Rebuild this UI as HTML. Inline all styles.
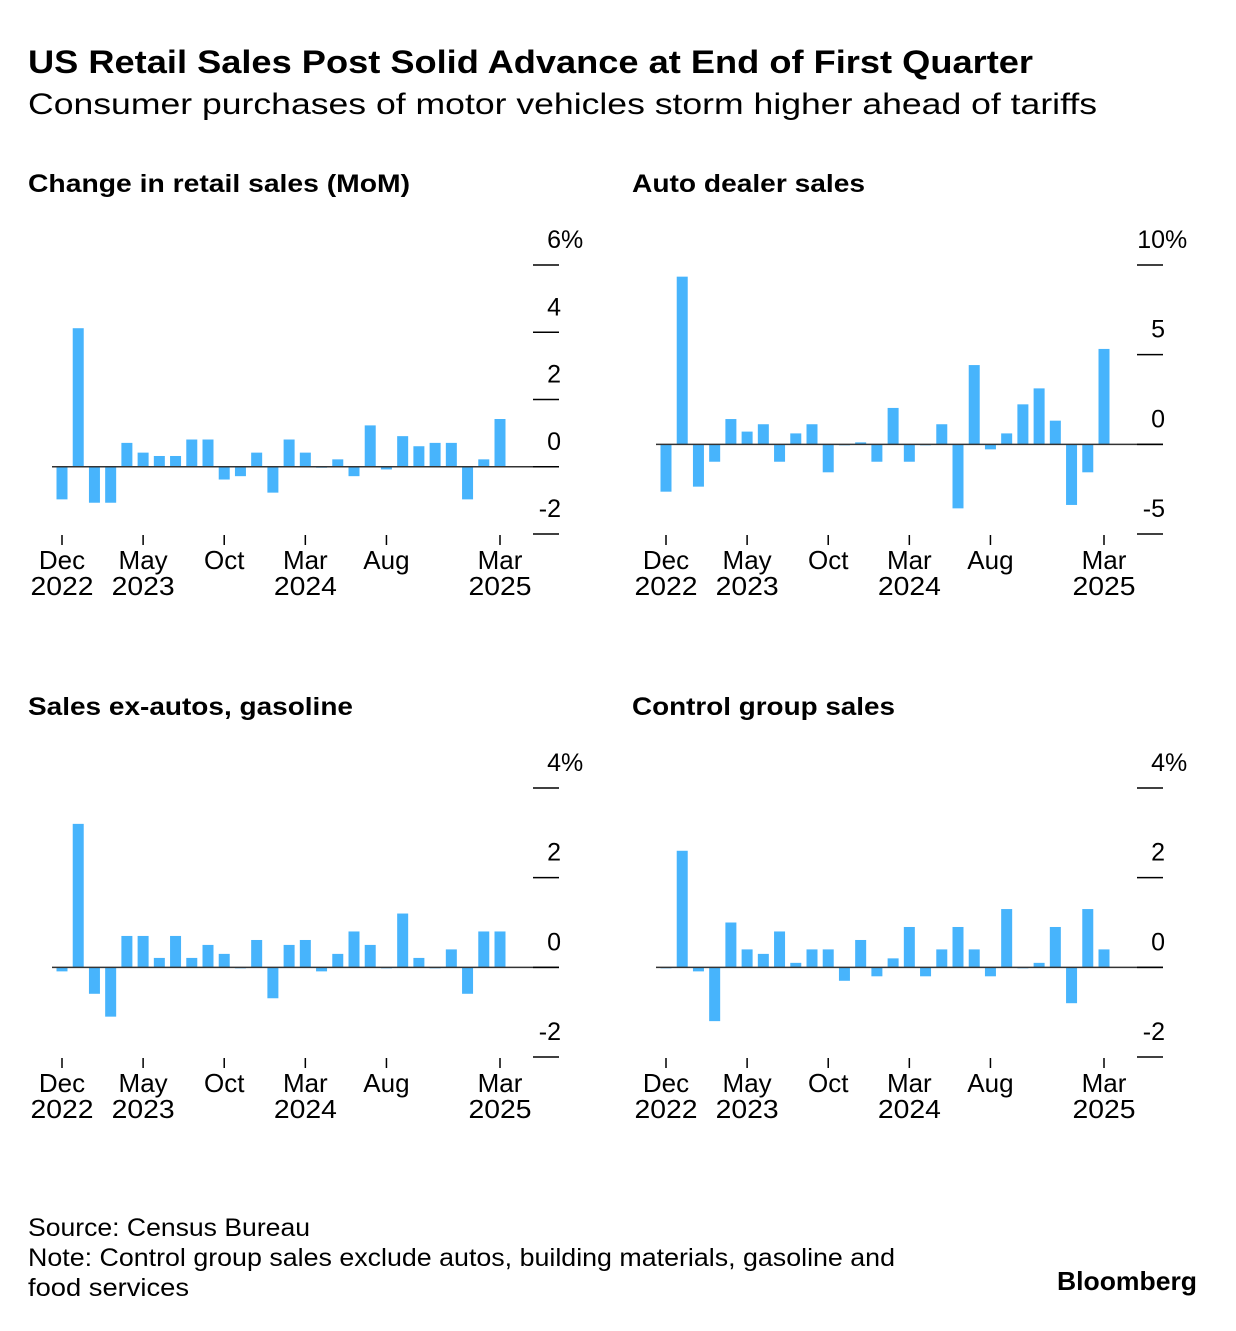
<!DOCTYPE html>
<html><head><meta charset="utf-8"><style>
body{margin:0;background:#fff;width:1236px;height:1326px;overflow:hidden;font-family:"Liberation Sans",sans-serif;color:#000}
svg text{font-family:"Liberation Sans",sans-serif}
</style></head><body>
<svg id="s" width="1236" height="1326">
<text x="28" y="73" font-size="32" font-weight="bold" textLength="1005" lengthAdjust="spacingAndGlyphs">US Retail Sales Post Solid Advance at End of First Quarter</text>
<text x="28" y="114" font-size="30" textLength="1069" lengthAdjust="spacingAndGlyphs">Consumer purchases of motor vehicles storm higher ahead of tariffs</text>
<text x="28" y="1236" font-size="25" textLength="282" lengthAdjust="spacingAndGlyphs">Source: Census Bureau</text>
<text x="28" y="1266" font-size="25" textLength="867" lengthAdjust="spacingAndGlyphs">Note: Control group sales exclude autos, building materials, gasoline and</text>
<text x="28" y="1296" font-size="25" textLength="161" lengthAdjust="spacingAndGlyphs">food services</text>
<text x="1057" y="1290" font-size="26" font-weight="bold" textLength="140" lengthAdjust="spacingAndGlyphs">Bloomberg</text>
</svg>
<script>
const retailValues=[-0.97,4.12,-1.07,-1.07,0.71,0.42,0.32,0.32,0.81,0.81,-0.38,-0.28,0.42,-0.77,0.81,0.42,-0.02,0.22,-0.28,1.23,-0.08,0.91,0.61,0.71,0.71,-0.97,0.22,1.42];
const autoValues=[-2.64,9.35,-2.36,-0.97,1.41,0.71,1.12,-0.97,0.61,1.12,-1.56,-0.05,0.11,-0.97,2.03,-0.97,-0.05,1.12,-3.57,4.42,-0.28,0.61,2.23,3.12,1.32,-3.38,-1.56,5.32];
const exAutoGasValues=[-0.09,3.2,-0.59,-1.1,0.7,0.7,0.21,0.7,0.21,0.5,0.3,-0.02,0.61,-0.69,0.5,0.61,-0.09,0.3,0.8,0.5,-0.02,1.2,0.21,-0.02,0.4,-0.59,0.8,0.8];
const controlValues=[-0.02,2.6,-0.09,-1.2,1.0,0.4,0.3,0.8,0.1,0.4,0.4,-0.3,0.61,-0.2,0.2,0.9,-0.2,0.4,0.9,0.4,-0.2,1.3,-0.02,0.1,0.9,-0.8,1.3,0.4];
const xTickIndex=[0,5,10,15,20,27];
const xTickMonth=["Dec","May","Oct","Mar","Aug","Mar"];
const xTickYear=["2022","2023","","2024","","2025"];
const retailTicks=[6,4,2,0,-2];
const autoTicks=[10,5,0,-5];
const exTicks=[4,2,0,-2];
const ctrlTicks=[4,2,0,-2];
const NS="http://www.w3.org/2000/svg";
const svg=document.getElementById('s');
function el(t,a,p){const e=document.createElementNS(NS,t);for(const k in a)e.setAttribute(k,a[k]);(p||svg).appendChild(e);return e;}
function panel(name,title,titleLen,ox,oy,vals,ticks,yMax,yMin){
  const g=el('g',{});
  
  
  const top=265+oy,bot=534+oy;
  const y=v=>top+(yMax-v)/(yMax-yMin)*(bot-top);
  const x0=62+ox,x1=500+ox;
  const x=i=>x0+i*(x1-x0)/(vals.length-1);
  const t=el('text',{x:28+ox,y:192+oy,'font-size':25,'font-weight':'bold',textLength:titleLen,lengthAdjust:'spacingAndGlyphs'},g);t.textContent=title;
  
  
  vals.forEach((v,i)=>{
    const r=el('rect',{x:x(i)-5.5,y:Math.min(y(v),y(0)),width:11,height:Math.max(Math.abs(y(v)-y(0)),1),fill:'#47b4fc'},g);
    
    
  });
  const z=el('line',{x1:52+ox,x2:559+ox,y1:y(0),y2:y(0),stroke:'#333','stroke-width':1.5},g);
  
  
  ticks.forEach((v,k)=>{
    const l=el('line',{x1:533+ox,x2:559+ox,y1:y(v),y2:y(v),stroke:'#000','stroke-width':1.5},g);
    
    
    const tx=el('text',{x:561+ox,y:y(v)-17,'font-size':25,'text-anchor':'end'},g);tx.textContent=String(v);
    
    
    if(k===0){const p=el('text',{x:561+ox,y:y(v)-17,'font-size':25},g);p.textContent='%';
      
      }
  });
  xTickIndex.forEach((idx,k)=>{
    const l=el('line',{x1:x(idx),x2:x(idx),y1:bot+1,y2:bot+11,stroke:'#000','stroke-width':1.5},g);
    
    
    const a=el('text',{x:x(idx),y:bot+35,'font-size':26,'text-anchor':'middle'},g);a.textContent=xTickMonth[k];
    
    
    if(xTickYear[k]){const b=el('text',{x:x(idx),y:bot+61,'font-size':26,'text-anchor':'middle',textLength:63,lengthAdjust:'spacingAndGlyphs'},g);b.textContent=xTickYear[k];
      
      }
  });
}
panel('retail-sales-panel','Change in retail sales (MoM)',382,0,0,retailValues,retailTicks,6,-2);
panel('auto-dealer-panel','Auto dealer sales',233,604,0,autoValues,autoTicks,10,-5);
panel('ex-autos-gas-panel','Sales ex-autos, gasoline',325,0,523,exAutoGasValues,exTicks,4,-2);
panel('control-group-panel','Control group sales',263,604,523,controlValues,ctrlTicks,4,-2);
</script>
</body></html>
